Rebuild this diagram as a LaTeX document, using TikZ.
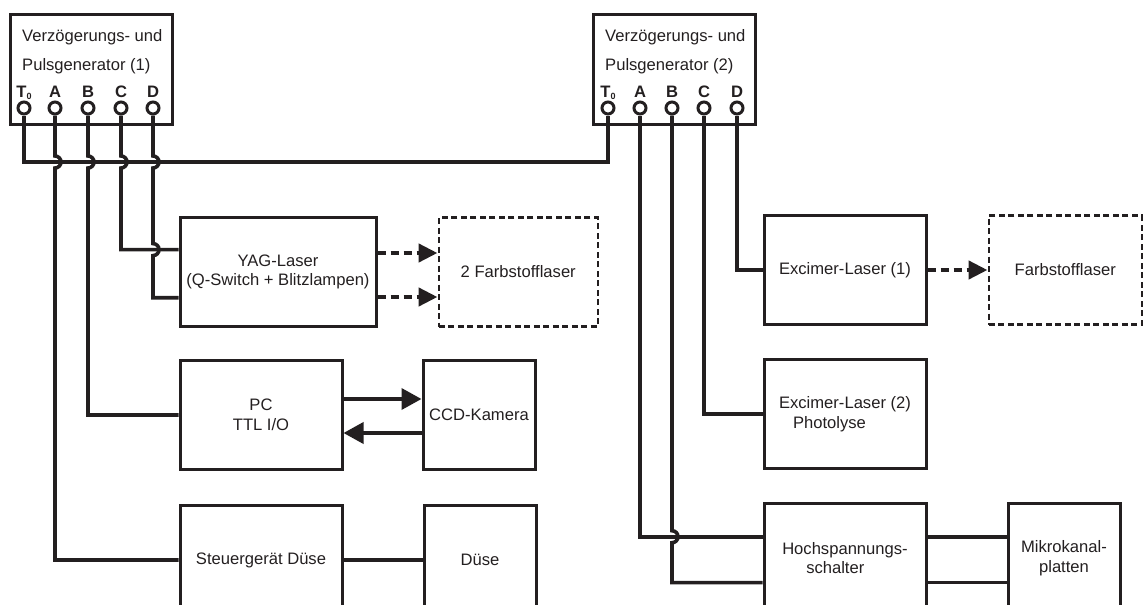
\documentclass[tikz,border=0pt]{standalone}
\usepackage{fontspec}
\setmainfont{Liberation Sans}
\usetikzlibrary{arrows.meta,positioning,calc}
\definecolor{ink}{RGB}{35,31,32}

\begin{document}
\begin{tikzpicture}[
    x=1pt, y=-1pt,
    every node/.style={font=\fontsize{16.6}{19.5}\selectfont, text=ink},
    box/.style={draw=ink, line width=3pt, align=center, inner sep=2pt, minimum width=162pt, minimum height=109pt},
    small/.style={box, minimum width=112pt},
    ghost/.style={box, line width=2.5pt, dash pattern=on 6pt off 3.5pt, minimum width=159pt},
    port/.style={circle, draw=ink, fill=white, line width=3pt, minimum size=12pt, inner sep=0pt},
    pin/.style={font=\fontsize{16.6}{19.5}\selectfont\bfseries, anchor=base, inner sep=0pt},
    wire/.style={draw=ink, line width=3.6pt},
    arrow/.style={wire, -{Triangle[length=20pt, width=21pt]}},
    beam/.style={draw=ink, line width=4.4pt, dash pattern=on 8pt off 5pt, -{Triangle[length=19pt, width=18pt]}}
]
\useasboundingbox (0,0) rectangle (1144,605);

\node[box, minimum height=110pt] (gen1) at (91,69) {};
\node[box, minimum height=110pt] (gen2) at (674.5,69) {};
\node[anchor=north west, align=left, inner sep=0pt] (gen1txt) at (22,29) {Verzögerungs- und\\[10pt]Pulsgenerator (1)};
\node[anchor=north west, align=left, inner sep=0pt] (gen2txt) at (605,29) {Verzögerungs- und\\[10pt]Pulsgenerator (2)};
\foreach \p/\x/\t in {T/24/{T\raisebox{-2pt}{\fontsize{9}{9}\selectfont 0}}, A/55/A, B/88/B, C/121/C, D/153/D} {
    \node[port] (g1\p) at (\x,108) {};
    \node[pin] at (\x,97) {\t};
}
\foreach \p/\x/\t in {T/608/{T\raisebox{-2pt}{\fontsize{9}{9}\selectfont 0}}, A/640/A, B/672/B, C/704/C, D/737/D} {
    \node[port] (g2\p) at (\x,108) {};
    \node[pin] at (\x,97) {\t};
}

\node[box, minimum width=196pt] (yag) at (278,272) {YAG-Laser\\(Q-Switch + Blitzlampen)};
\node[ghost, right=60pt of yag] (farb2) {2 Farbstofflaser};
\node[box, below right=31pt and 0pt of yag.south west] (pc) {PC\\TTL I/O};
\node[small, right=78pt of pc] (ccd) {CCD-Kamera};
\node[box, below=33pt of pc] (steuer) {Steuergerät Düse};
\node[small, right=79pt of steuer] (duese) {Düse};

\node[box] (exc1) at (845,270) {Excimer-Laser (1)};
\node[ghost, right=60pt of exc1, minimum width=153pt] (farb1) {Farbstofflaser};
\node[box, below=32pt of exc1, align=left] (exc2) {Excimer-Laser (2)\\\hspace*{14pt}Photolyse};
\node[box, below=32pt of exc2, align=left] (hv) {Hochspannungs-\\\hspace*{24pt}schalter};
\node[small, right=79pt of hv] (mcp) {Mikrokanal-\\platten};

\coordinate (bus) at (0,162);
\coordinate (yagC) at ($(yag.north west)!0.3!(yag.south west)$);
\coordinate (yagD) at ($(yag.north west)!0.73!(yag.south west)$);
\coordinate (hvA) at ($(hv.north west)!0.31!(hv.south west)$);
\coordinate (hvB) at ($(hv.north west)!0.72!(hv.south west)$);

\draw[wire] (g1T.south) -- (g1T.south |- bus) -| (g2T.south);
\draw[wire] (g1A.south) -- ($(g1A.south |- bus)+(0,-6)$) arc[start angle=-90, end angle=90, radius=6] |- (steuer.west);
\draw[wire] (g1B.south) -- ($(g1B.south |- bus)+(0,-6)$) arc[start angle=-90, end angle=90, radius=6] |- (pc.west);
\draw[wire] (g1C.south) -- ($(g1C.south |- bus)+(0,-6)$) arc[start angle=-90, end angle=90, radius=6] |- (yagC);
\draw[wire] (g1D.south) -- ($(g1D.south |- bus)+(0,-6)$) arc[start angle=-90, end angle=90, radius=6]
    -- ($(g1D.south |- yagC)+(0,-6)$) arc[start angle=-90, end angle=90, radius=6] |- (yagD);

\draw[wire] (g2A.south) |- (hvA);
\draw[wire] (g2B.south) -- ($(g2B.south |- hvA)+(0,-6)$) arc[start angle=-90, end angle=90, radius=6] |- (hvB);
\draw[wire] (g2C.south) |- (exc2.west);
\draw[wire] (g2D.south) |- (exc1.west);

\draw[beam] ([yshift=19pt]yag.east) -- ([yshift=19pt]yag.east -| farb2.west);
\draw[beam] ([yshift=-25pt]yag.east) -- ([yshift=-25pt]yag.east -| farb2.west);
\draw[beam] (exc1.east) -- (exc1.east -| farb1.west);
\draw[arrow] ([yshift=16pt]pc.east) -- ([yshift=16pt]pc.east -| ccd.west);
\draw[arrow] ([yshift=-18pt]ccd.west) -- ([yshift=-18pt]ccd.west -| pc.east);
\draw[wire] (steuer.east) -- (steuer.east -| duese.west);
\draw[wire] (hv.east |- hvA) -- (mcp.west |- hvA);
\draw[wire] (hv.east |- hvB) -- (mcp.west |- hvB);
\end{tikzpicture}
\end{document}
